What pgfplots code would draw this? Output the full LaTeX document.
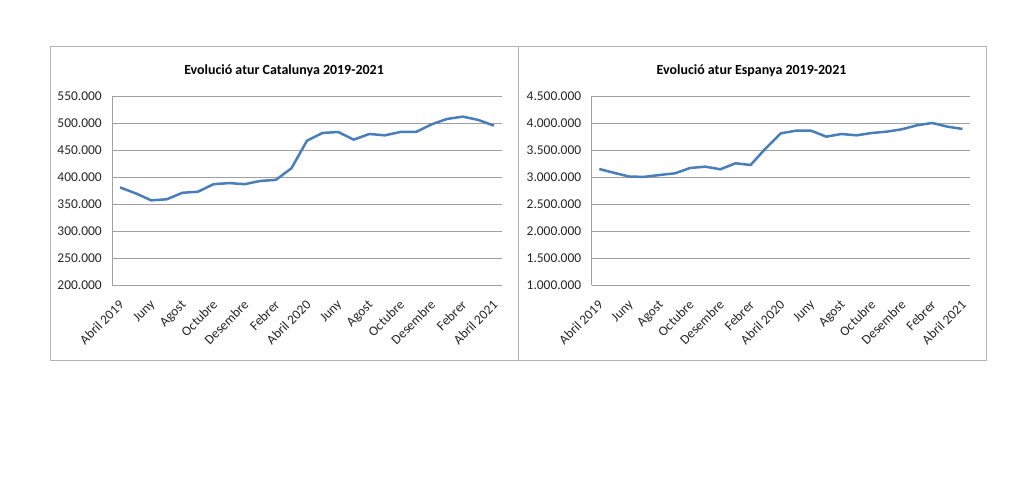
\documentclass[border=0pt]{standalone}
\usepackage{pgfplots}
\usepackage{pgfplotstable}
\pgfplotsset{compat=1.18}
\usepackage{fontspec}
\setmainfont{Carlito}

\definecolor{serie}{HTML}{4A7EBB}
\definecolor{graella}{HTML}{A0A0A0}
\definecolor{marc}{HTML}{B4B4B4}
\definecolor{etiqueta}{HTML}{262626}

% Atur registrat mensual, abril 2019 - abril 2021
\pgfplotstableread{
i  cat     esp
0  381000  3152000
1  370000  3078000
2  357000  3010000
3  359000  3006000
4  371000  3041000
5  373000  3071000
6  387000  3170000
7  389000  3195000
8  387000  3146000
9  393000  3257000
10 395000  3226000
11 416500  3535000
12 467700  3813000
13 482000  3862000
14 483800  3862000
15 469600  3751000
16 480100  3801000
17 477600  3776000
18 483800  3819000
19 483800  3844000
20 498000  3888000
21 508000  3962000
22 512300  4005000
23 506100  3937000
24 495600  3894000
}\dades

\pgfplotsset{
  panell/.style={
    scale only axis,
    anchor=south west,
    height=188.7bp,
    xmin=-0.5, xmax=24.5,
    xtick={0,2,...,24},
    xticklabels={Abril 2019,Juny,Agost,Octubre,Desembre,Febrer,Abril 2020,Juny,Agost,Octubre,Desembre,Febrer,Abril 2021},
    axis lines*=left,
    axis line style={draw=graella, line width=0.8bp},
    major tick length=0pt,
    ymajorgrids,
    grid style={draw=graella, line width=0.8bp},
    scaled y ticks=false,
    /pgf/number format/.cd, fixed, precision=0, 1000 sep={.}, assume math mode=true,
    /pgfplots/.cd,
    tick label style={font=\fontsize{13.5}{16}\selectfont, text=etiqueta},
    yticklabel style={xshift=-7bp},
    xticklabel style={xshift=-2bp, yshift=-14bp, rotate=45, anchor=north east, inner sep=0pt},
    title style={font=\fontsize{14}{16}\selectfont\bfseries, anchor=center, yshift=20bp},
  },
}

\begin{document}
\begin{tikzpicture}[x=1bp, y=1bp]
  \useasboundingbox (0,0) rectangle (1024,477);
  \fill[white] (0,0) rectangle (1024,477);
  \draw[marc, line width=1bp] (50,116) rectangle (518,430);
  \draw[marc, line width=1bp] (518,116) rectangle (986,430);

  \begin{axis}[panell,
    at={(112.3bp,192bp)}, width=389.4bp,
    ymin=200000, ymax=550000, ytick={200000,250000,...,550000},
    title={Evolució atur Catalunya 2019-2021},
    title style={at={(0.441,1)}}]
    \addplot[serie, line width=2.5bp, line join=round] table[x=i, y=cat] {\dades};
  \end{axis}

  \begin{axis}[panell,
    at={(591.7bp,192bp)}, width=378.3bp,
    ymin=1000000, ymax=4500000, ytick={1000000,1500000,...,4500000},
    title={Evolució atur Espanya 2019-2021},
    title style={at={(0.4224,1)}}]
    \addplot[serie, line width=2.5bp, line join=round] table[x=i, y=esp] {\dades};
  \end{axis}
\end{tikzpicture}
\end{document}
